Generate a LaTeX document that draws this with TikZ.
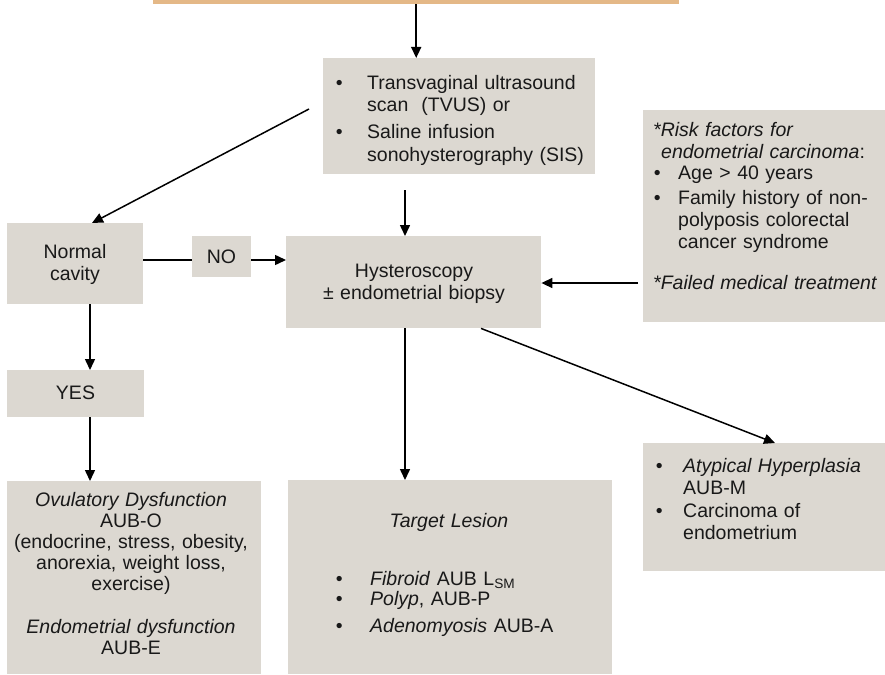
\documentclass[tikz,border=0pt]{standalone}
\usepackage{fontspec}
\setmainfont{Liberation Sans}
\usetikzlibrary{arrows.meta,calc}

\definecolor{boxfill}{RGB}{220,216,209}
\definecolor{barfill}{RGB}{228,184,135}
\definecolor{ink}{RGB}{25,25,25}

% bullet hung to the left of the text start; #1 = gap from bullet to text
\newcommand\mybullet[1]{\leavevmode\llap{\textbullet\hskip#1pt}}

\tikzset{
  box/.style={fill=boxfill, draw=none, inner sep=0pt, anchor=north west},
  txt/.style={inner sep=0pt, text=ink, font=\fontsize{19.5}{22}\selectfont},
  ltxt/.style={txt, anchor=base west, align=left},
  ctxt/.style={txt, anchor=base, align=center},
  arr/.style={-{Triangle[length=11pt,width=10pt]}, line width=1.5pt},
  link/.style={line width=1.5pt}
}

\begin{document}
\begin{tikzpicture}[x=1pt, y=-1pt]
\useasboundingbox (0,0) rectangle (885,674);

% ---- boxes ----
\node[fill=barfill, inner sep=0pt, minimum width=526, minimum height=4, anchor=north west] (bar) at (153,0) {};
\node[box, minimum width=272, minimum height=116] (tvus)   at (323,58)  {};
\node[box, minimum width=136, minimum height=81]  (normal) at (7,223)   {};
\node[box, minimum width=59,  minimum height=41]  (no)     at (192,236) {};
\node[box, minimum width=255, minimum height=92]  (hyst)   at (286,236) {};
\node[box, minimum width=242, minimum height=212] (risk)   at (643,110) {};
\node[box, minimum width=137, minimum height=47]  (yes)    at (7,370)   {};
\node[box, minimum width=254, minimum height=193] (ovul)   at (7,481)   {};
\node[box, minimum width=324, minimum height=194] (target) at (288,480) {};
\node[box, minimum width=242, minimum height=128] (atyp)   at (643,443) {};

% ---- texts ----
\node[ltxt, text width=225] (tvus-t) at (367,90)
  {\mybullet{24.6}Transvaginal ultrasound\\scan\ \ (TVUS) or\par\vspace{5pt}%
   \mybullet{24.6}Saline infusion\\sonohysterography (SIS)};

\node[ctxt, text width=136] (normal-t) at (75,258) {Normal\\cavity};
\node[ctxt, text width=59]  (no-t)     at (221.5,263) {NO};
\node[ctxt, text width=137] (yes-t)    at (75.5,399) {YES};
\node[ctxt, text width=255] (hyst-t)   at (414,277) {Hysteroscopy\\± endometrial biopsy};

\node[ltxt, text width=232] (risk-h) at (653,136)
  {\textit{*Risk factors for}\\\hspace*{8pt}\textit{endometrial carcinoma}:};
\node[ltxt, text width=205] (risk-l) at (678,179)
  {\mybullet{17.6}Age > 40 years\par\vspace{3pt}%
   \mybullet{17.6}Family history of non-\\polyposis colorectal\\cancer syndrome};
\node[ltxt, text width=232] (risk-f) at (653,289) {\textit{*Failed medical treatment}};

\node[ctxt, text width=254, font=\fontsize{19.5}{21}\selectfont] (ovul-t) at (131,506)
  {\textit{Ovulatory Dysfunction}\\AUB-O\\(endocrine, stress, obesity,\\anorexia, weight loss,\\exercise)\\[22pt]%
   \textit{Endometrial dysfunction}\\AUB-E};

\node[ctxt, text width=324] (target-h) at (449,527) {\textit{Target Lesion}};
\node[ltxt, text width=235] (target-l) at (370,585)
  {\mybullet{27.6}\textit{Fibroid} AUB L\textsubscript{SM}\par\vspace{-2pt}%
   \mybullet{27.6}\textit{Polyp}, AUB-P\par\vspace{5pt}%
   \mybullet{27.6}\textit{Adenomyosis} AUB-A};

\node[ltxt, text width=200] (atyp-t) at (683,472)
  {\mybullet{20.6}\textit{Atypical Hyperplasia}\\AUB-M\par\vspace{1pt}%
   \mybullet{20.6}Carcinoma of\\endometrium};

% ---- connector anchors ----
\coordinate (tvusexit) at (309,109);
\coordinate (nolevel)  at (0,260);
\coordinate (risklevel) at (0,283);
\coordinate (tvusdown) at ($(tvus.south west)+(82,16)$);
\coordinate (hystdown) at ($(hyst.south west)+(119,0)$);
\coordinate (hystdiag) at ($(hyst.south west)+(195,0)$);
\coordinate (normdown) at ($(normal.south west)+(83,0)$);
\coordinate (yesdown)  at ($(yes.south west)+(83,0)$);
\coordinate (riskexit) at ($(risk.west |- risklevel)+(-5,0)$);

% ---- connectors ----
\draw[arr] (bar.south) -- (bar.south |- tvus.north);
\draw[arr] (tvusexit) -- ($(normal.north west)+(85,0)$);
\draw[arr] (tvusdown) -- (tvusdown |- hyst.north);
\draw[link] (normal.east |- nolevel) -- (no.west |- nolevel);
\draw[arr] (no.east |- nolevel) -- (hyst.west |- nolevel);
\draw[arr] (riskexit) -- (hyst.east |- risklevel);
\draw[arr] (normdown) -- (normdown |- yes.north);
\draw[arr] (yesdown) -- (yesdown |- ovul.north);
\draw[arr] (hystdown) -- (hystdown |- target.north);
\draw[arr] (hystdiag) -- ($(atyp.north west)+(132,0)$);
\end{tikzpicture}
\end{document}
